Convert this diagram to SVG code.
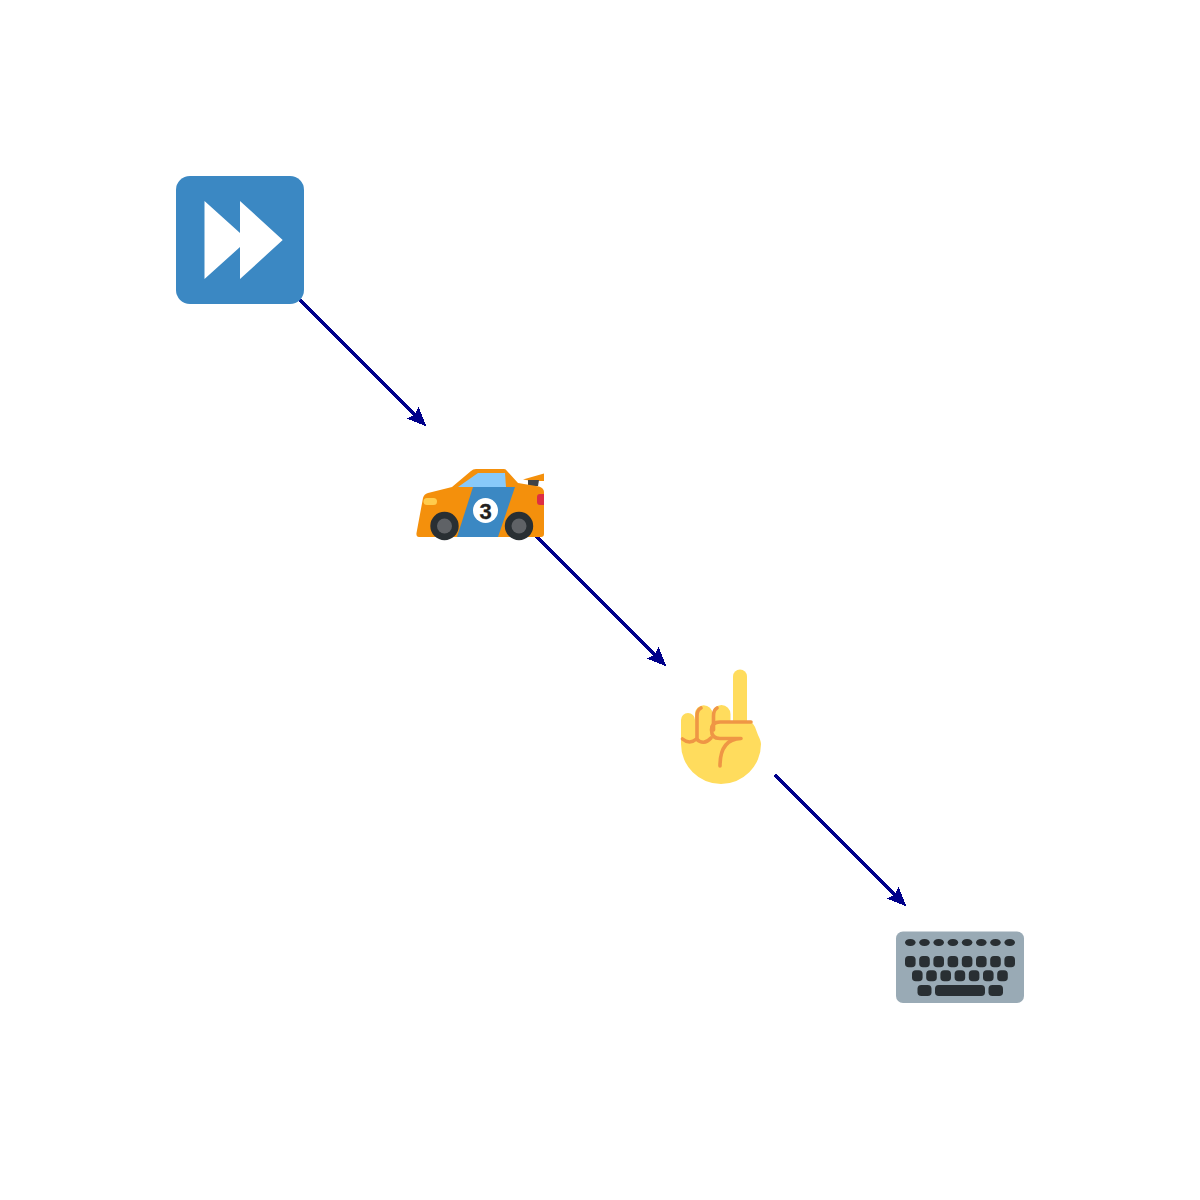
<svg xmlns="http://www.w3.org/2000/svg" width="1200" height="1200" viewBox="0 0 1200 1200">
<style>
.edge{stroke:#00008b;stroke-width:3;fill:none;shape-rendering:crispEdges}
.head{fill:#00008b;stroke:#00008b;stroke-width:1;shape-rendering:crispEdges}
.dk{fill:#292f33}
.ln{fill:none;stroke:#ef9645;stroke-width:3.600;stroke-linecap:round;stroke-linejoin:round}
.sk{fill:#ffdc5d}
.hub{fill:#5f6266}
.key{rx:3.800px}
</style>
<rect width="1200" height="1200" fill="#fff"/>
<g id="connectors">
<path class="edge" d="M300 300L417 417"/><path class="head" d="M425.500 425.500L408 418.500L415 415L418.500 408Z"/>
<path class="edge" d="M536 536L657 657"/><path class="head" d="M665.500 665.500L648 658.500L655 655L658.500 648Z"/>
<path class="edge" d="M775 775L897 897"/><path class="head" d="M905.500 905.500L888 898.500L895 895L898.500 888Z"/>
</g>
<g id="node-fast-forward">
<rect x="176" y="176" width="128" height="128" rx="14" fill="#3b88c3"/>
<path fill="#fff" d="M204.500 201L240 233V201L282.700 240L240 279V247L204.500 279Z"/>
</g>
<g id="node-race-car">
<path fill="#f4900c" d="M523 479.500L544 473.500V481H532Z"/>
<path fill="#3f4347" d="M528 480H539L538 486H528Z"/>
<path fill="#f4900c" d="M416.500 533L423 498Q424 494 428 493L452 487L471 471Q473 469 476 469H504Q506 469 507 471L518 483L539 486.500Q544 488 544 492V534Q544 537 541 537H419Q416 537 416.500 533Z"/>
<path fill="#88c9f9" d="M458 487L478 473H505L506 487Z"/>
<path fill="#3b88c3" d="M473 487H515L498 537H457Z"/>
<rect x="423.500" y="498" width="13.500" height="7" rx="3.500" fill="#ffcc4d"/>
<path fill="#dd2e44" d="M544 494V505H540Q537 505 537 502V497Q537 494 540 494Z"/>
<circle cx="444.500" cy="526" r="14.200" class="dk"/><circle cx="444.500" cy="526" r="7.500" class="hub"/>
<circle cx="519" cy="526" r="14.200" class="dk"/><circle cx="519" cy="526" r="7.500" class="hub"/>
<circle cx="485.500" cy="510.500" r="12.500" fill="#fff"/>
<text x="485.500" y="518.500" text-anchor="middle" font-family="'Liberation Sans',sans-serif" font-size="22" font-weight="700" fill="#231f20" stroke="#231f20" stroke-width="0.300">3</text>
</g>
<g id="node-hand">
<rect x="733" y="669.500" width="14" height="60" rx="7" class="sk"/>
<path class="sk" d="M681 744V720A7 7 0 0 1 695 720V714A8.500 8.500 0 0 1 712.500 714A8.800 8.800 0 0 1 730.500 714V721H748Q752 721 755 727L758 735Q761 741 761 744A40 40 0 0 1 681 744Z"/>
<path class="ln" d="M682.500 739Q689.500 745 696.500 739Q703.500 746 711 738"/>
<path class="ln" d="M697 739V716Q697 710 701 708"/>
<path class="ln" d="M713.500 730V716Q713.500 710 717 708"/>
<path class="ln" d="M751 722H720Q711.500 722 711.500 730Q711.500 738.500 720 738.500H741Q720 739 720 766"/>
</g>
<g id="node-keyboard">
<rect x="896" y="931.500" width="128" height="71.500" rx="7" fill="#99aab5"/>
<g class="dk">
<rect x="905" y="939" width="10.600" height="7" rx="5" ry="3.500"/><rect x="919.200" y="939" width="10.600" height="7" rx="5" ry="3.500"/><rect x="933.400" y="939" width="10.600" height="7" rx="5" ry="3.500"/><rect x="947.600" y="939" width="10.600" height="7" rx="5" ry="3.500"/><rect x="961.800" y="939" width="10.600" height="7" rx="5" ry="3.500"/><rect x="976" y="939" width="10.600" height="7" rx="5" ry="3.500"/><rect x="990.200" y="939" width="10.600" height="7" rx="5" ry="3.500"/><rect x="1004.400" y="939" width="10.600" height="7" rx="5" ry="3.500"/>
<rect class="key" x="905" y="956" width="10.600" height="11.300"/><rect class="key" x="919.200" y="956" width="10.600" height="11.300"/><rect class="key" x="933.400" y="956" width="10.600" height="11.300"/><rect class="key" x="947.600" y="956" width="10.600" height="11.300"/><rect class="key" x="961.800" y="956" width="10.600" height="11.300"/><rect class="key" x="976" y="956" width="10.600" height="11.300"/><rect class="key" x="990.200" y="956" width="10.600" height="11.300"/><rect class="key" x="1004.400" y="956" width="10.600" height="11.300"/>
<rect class="key" x="912" y="970.300" width="10.600" height="11"/><rect class="key" x="926.200" y="970.300" width="10.600" height="11"/><rect class="key" x="940.400" y="970.300" width="10.600" height="11"/><rect class="key" x="954.600" y="970.300" width="10.600" height="11"/><rect class="key" x="968.800" y="970.300" width="10.600" height="11"/><rect class="key" x="983" y="970.300" width="10.600" height="11"/><rect class="key" x="997.200" y="970.300" width="10.600" height="11"/>
<rect class="key" x="917.500" y="985" width="14" height="11"/><rect class="key" x="935" y="985" width="50" height="11"/><rect class="key" x="988.500" y="985" width="14.500" height="11"/>
</g>
</g>
</svg>
